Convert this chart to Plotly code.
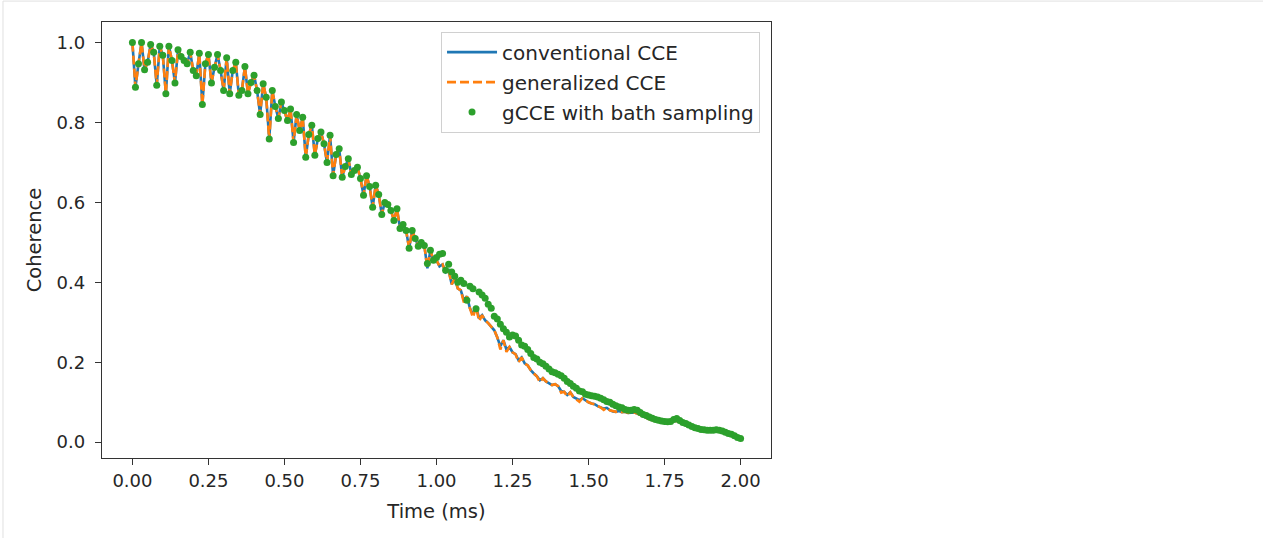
import plotly.graph_objects as go

# Time axis (ms), sampled every 0.01 ms from 0 to 2 ms
time_ms = [
    0.00, 0.01, 0.02, 0.03, 0.04, 0.05, 0.06, 0.07, 0.08, 0.09,
    0.10, 0.11, 0.12, 0.13, 0.14, 0.15, 0.16, 0.17, 0.18, 0.19,
    0.20, 0.21, 0.22, 0.23, 0.24, 0.25, 0.26, 0.27, 0.28, 0.29,
    0.30, 0.31, 0.32, 0.33, 0.34, 0.35, 0.36, 0.37, 0.38, 0.39,
    0.40, 0.41, 0.42, 0.43, 0.44, 0.45, 0.46, 0.47, 0.48, 0.49,
    0.50, 0.51, 0.52, 0.53, 0.54, 0.55, 0.56, 0.57, 0.58, 0.59,
    0.60, 0.61, 0.62, 0.63, 0.64, 0.65, 0.66, 0.67, 0.68, 0.69,
    0.70, 0.71, 0.72, 0.73, 0.74, 0.75, 0.76, 0.77, 0.78, 0.79,
    0.80, 0.81, 0.82, 0.83, 0.84, 0.85, 0.86, 0.87, 0.88, 0.89,
    0.90, 0.91, 0.92, 0.93, 0.94, 0.95, 0.96, 0.97, 0.98, 0.99,
    1.00, 1.01, 1.02, 1.03, 1.04, 1.05, 1.06, 1.07, 1.08, 1.09,
    1.10, 1.11, 1.12, 1.13, 1.14, 1.15, 1.16, 1.17, 1.18, 1.19,
    1.20, 1.21, 1.22, 1.23, 1.24, 1.25, 1.26, 1.27, 1.28, 1.29,
    1.30, 1.31, 1.32, 1.33, 1.34, 1.35, 1.36, 1.37, 1.38, 1.39,
    1.40, 1.41, 1.42, 1.43, 1.44, 1.45, 1.46, 1.47, 1.48, 1.49,
    1.50, 1.51, 1.52, 1.53, 1.54, 1.55, 1.56, 1.57, 1.58, 1.59,
    1.60, 1.61, 1.62, 1.63, 1.64, 1.65, 1.66, 1.67, 1.68, 1.69,
    1.70, 1.71, 1.72, 1.73, 1.74, 1.75, 1.76, 1.77, 1.78, 1.79,
    1.80, 1.81, 1.82, 1.83, 1.84, 1.85, 1.86, 1.87, 1.88, 1.89,
    1.90, 1.91, 1.92, 1.93, 1.94, 1.95, 1.96, 1.97, 1.98, 1.99,
    2.00,
]

conventional_cce = [
    1.000, 0.888, 0.947, 1.000, 0.932, 0.951, 0.995, 0.976, 0.893, 0.991,
    0.968, 0.872, 0.991, 0.955, 0.899, 0.982, 0.965, 0.955, 0.947, 0.976,
    0.930, 0.917, 0.973, 0.845, 0.947, 0.970, 0.899, 0.938, 0.970, 0.930,
    0.880, 0.962, 0.872, 0.930, 0.951, 0.868, 0.880, 0.940, 0.872, 0.900,
    0.918, 0.880, 0.820, 0.897, 0.863, 0.759, 0.880, 0.840, 0.810, 0.851,
    0.830, 0.805, 0.834, 0.750, 0.820, 0.780, 0.813, 0.713, 0.770, 0.793,
    0.718, 0.760, 0.776, 0.747, 0.700, 0.768, 0.667, 0.720, 0.734, 0.663,
    0.690, 0.709, 0.670, 0.680, 0.688, 0.660, 0.618, 0.667, 0.640, 0.588,
    0.643, 0.620, 0.570, 0.600, 0.595, 0.580, 0.555, 0.584, 0.535, 0.545,
    0.530, 0.485, 0.530, 0.510, 0.490, 0.500, 0.492, 0.435, 0.480, 0.455,
    0.455, 0.440, 0.445, 0.425, 0.430, 0.395, 0.410, 0.385, 0.380, 0.355,
    0.365, 0.335, 0.320, 0.340, 0.310, 0.318, 0.305, 0.298, 0.290, 0.280,
    0.262, 0.240, 0.255, 0.232, 0.238, 0.225, 0.220, 0.205, 0.212, 0.197,
    0.192, 0.180, 0.172, 0.165, 0.155, 0.160, 0.152, 0.148, 0.143, 0.145,
    0.140, 0.128, 0.126, 0.118, 0.125, 0.113, 0.108, 0.105, 0.110, 0.104,
    0.100, 0.097, 0.095, 0.090, 0.087, 0.084, 0.086, 0.080, 0.077, 0.076,
    0.078, 0.075, 0.076, 0.073, 0.074, 0.074, 0.072, 0.068, 0.064, 0.060,
    0.057, 0.055, 0.053, 0.051, 0.050, 0.049, 0.048, 0.050, 0.054, 0.053,
    0.049, 0.045, 0.042, 0.040, 0.037, 0.034, 0.032, 0.030, 0.029, 0.028,
    0.028, 0.028, 0.029, 0.028, 0.026, 0.023, 0.021, 0.018, 0.015, 0.012,
    0.009,
]

generalized_cce = [
    1.000, 0.888, 0.947, 1.000, 0.932, 0.951, 0.995, 0.976, 0.893, 0.991,
    0.968, 0.872, 0.991, 0.955, 0.899, 0.982, 0.965, 0.955, 0.947, 0.976,
    0.930, 0.917, 0.973, 0.843, 0.947, 0.970, 0.899, 0.938, 0.970, 0.930,
    0.880, 0.962, 0.872, 0.930, 0.951, 0.868, 0.880, 0.940, 0.872, 0.900,
    0.918, 0.880, 0.820, 0.897, 0.863, 0.755, 0.880, 0.840, 0.810, 0.851,
    0.830, 0.805, 0.834, 0.750, 0.820, 0.780, 0.813, 0.713, 0.770, 0.793,
    0.718, 0.760, 0.776, 0.747, 0.700, 0.768, 0.667, 0.720, 0.734, 0.663,
    0.690, 0.709, 0.670, 0.680, 0.688, 0.660, 0.618, 0.667, 0.640, 0.588,
    0.643, 0.620, 0.570, 0.600, 0.595, 0.580, 0.555, 0.584, 0.535, 0.545,
    0.530, 0.485, 0.530, 0.510, 0.490, 0.500, 0.492, 0.435, 0.480, 0.455,
    0.455, 0.440, 0.445, 0.425, 0.430, 0.395, 0.410, 0.385, 0.380, 0.350,
    0.365, 0.335, 0.312, 0.340, 0.303, 0.318, 0.305, 0.298, 0.290, 0.280,
    0.262, 0.232, 0.255, 0.226, 0.238, 0.225, 0.220, 0.200, 0.212, 0.197,
    0.192, 0.180, 0.172, 0.165, 0.150, 0.160, 0.152, 0.148, 0.143, 0.145,
    0.140, 0.124, 0.126, 0.114, 0.125, 0.113, 0.108, 0.101, 0.110, 0.104,
    0.100, 0.097, 0.095, 0.090, 0.087, 0.081, 0.086, 0.080, 0.077, 0.076,
    0.078, 0.075, 0.076, 0.073, 0.074, 0.074, 0.072, 0.068, 0.064, 0.060,
    0.057, 0.055, 0.053, 0.051, 0.050, 0.049, 0.048, 0.050, 0.054, 0.053,
    0.049, 0.045, 0.042, 0.040, 0.037, 0.034, 0.032, 0.030, 0.029, 0.028,
    0.028, 0.028, 0.029, 0.028, 0.026, 0.023, 0.021, 0.018, 0.015, 0.012,
    0.009,
]

gcce_bath_sampling = [
    1.000, 0.888, 0.947, 1.000, 0.932, 0.951, 0.995, 0.976, 0.893, 0.991,
    0.968, 0.872, 0.991, 0.955, 0.899, 0.982, 0.965, 0.955, 0.947, 0.976,
    0.930, 0.917, 0.973, 0.845, 0.947, 0.970, 0.899, 0.938, 0.970, 0.930,
    0.880, 0.962, 0.872, 0.930, 0.951, 0.868, 0.880, 0.940, 0.872, 0.900,
    0.918, 0.880, 0.820, 0.897, 0.863, 0.759, 0.880, 0.840, 0.810, 0.851,
    0.830, 0.805, 0.834, 0.750, 0.820, 0.780, 0.813, 0.713, 0.770, 0.793,
    0.718, 0.760, 0.776, 0.747, 0.700, 0.768, 0.667, 0.720, 0.734, 0.663,
    0.690, 0.709, 0.670, 0.680, 0.688, 0.660, 0.618, 0.667, 0.640, 0.588,
    0.643, 0.620, 0.570, 0.600, 0.595, 0.580, 0.555, 0.584, 0.535, 0.545,
    0.530, 0.485, 0.530, 0.510, 0.490, 0.500, 0.492, 0.447, 0.480, 0.455,
    0.462, 0.470, 0.472, 0.430, 0.445, 0.426, 0.415, 0.400, 0.405, 0.397,
    0.355, 0.390, 0.384, 0.334, 0.376, 0.368, 0.360, 0.345, 0.335, 0.315,
    0.308, 0.295, 0.284, 0.275, 0.263, 0.268, 0.266, 0.255, 0.243, 0.240,
    0.232, 0.222, 0.212, 0.208, 0.200, 0.196, 0.190, 0.183, 0.176, 0.174,
    0.170, 0.166, 0.160, 0.152, 0.147, 0.140, 0.135, 0.128, 0.126, 0.120,
    0.118, 0.116, 0.115, 0.113, 0.110, 0.106, 0.102, 0.100, 0.095, 0.091,
    0.088, 0.086, 0.082, 0.080, 0.080, 0.082, 0.080, 0.074, 0.069, 0.067,
    0.063, 0.060, 0.057, 0.055, 0.053, 0.052, 0.051, 0.052, 0.057, 0.059,
    0.054, 0.049, 0.047, 0.043, 0.039, 0.036, 0.034, 0.032, 0.031, 0.030,
    0.030, 0.030, 0.031, 0.030, 0.028, 0.025, 0.022, 0.020, 0.016, 0.012,
    0.009,
]

x_tick_vals = [0.0, 0.25, 0.5, 0.75, 1.0, 1.25, 1.5, 1.75, 2.0]
x_tick_text = ["0.00", "0.25", "0.50", "0.75", "1.00", "1.25", "1.50", "1.75", "2.00"]
y_tick_vals = [0.0, 0.2, 0.4, 0.6, 0.8, 1.0]
y_tick_text = ["0.0", "0.2", "0.4", "0.6", "0.8", "1.0"]

FONT = "DejaVu Sans"
TXT = "#262626"
AX = "#333333"

fig = go.Figure()
fig.add_trace(go.Scatter(
    x=time_ms, y=conventional_cce, mode="lines", name="conventional CCE",
    legendgroup="a", line=dict(color="#1f77b4", width=2.6),
))
fig.add_trace(go.Scatter(
    x=time_ms, y=generalized_cce, mode="lines", name="generalized CCE",
    legendgroup="b", line=dict(color="#ff7f0e", width=2.6, dash="9px,4px"),
))
fig.add_trace(go.Scatter(
    x=time_ms, y=gcce_bath_sampling, mode="markers", name="gCCE with bath sampling",
    legendgroup="c", marker=dict(color="#2ca02c", size=7, line=dict(width=0)),
))

fig.update_layout(
    width=1263, height=538,
    margin=dict(l=102, r=492, t=22, b=80),
    paper_bgcolor="white", plot_bgcolor="white",
    font=dict(family=FONT, size=18, color=TXT),
    showlegend=True,
    legend=dict(
        x=0.9836, y=0.978, xanchor="right", yanchor="top",
        bgcolor="rgba(255,255,255,0.8)", bordercolor="#d0d0d0", borderwidth=1,
        font=dict(family=FONT, size=20, color=TXT),
        tracegroupgap=1, itemwidth=50,
    ),
    xaxis=dict(
        range=[-0.1, 2.1], tickvals=x_tick_vals, ticktext=x_tick_text,
        showgrid=False, zeroline=False,
        showline=True, mirror=True, linecolor=AX, linewidth=1.3,
        ticks="outside", ticklen=6, tickwidth=1.3, tickcolor=AX,
        tickfont=dict(family=FONT, size=18, color=TXT),
        title=dict(text="Time (ms)", font=dict(family=FONT, size=19.5, color=TXT), standoff=14),
    ),
    yaxis=dict(
        range=[-0.0396, 1.0515], tickvals=y_tick_vals, ticktext=y_tick_text,
        showgrid=False, zeroline=False,
        showline=True, mirror=True, linecolor=AX, linewidth=1.3,
        ticks="outside", ticklen=6, tickwidth=1.3, tickcolor=AX,
        ticklabelstandoff=6,
        tickfont=dict(family=FONT, size=18, color=TXT),
        title=dict(text="Coherence", font=dict(family=FONT, size=19.5, color=TXT), standoff=9),
    ),
    shapes=[
        dict(type="line", xref="paper", yref="paper", x0=-0.148, x1=1.74, y0=1.048, y1=1.048,
             line=dict(color="#e0e0e0", width=1)),
        dict(type="line", xref="paper", yref="paper", x0=-0.148, x1=-0.148, y0=1.048, y1=-0.19,
             line=dict(color="#e0e0e0", width=1)),
    ],
)

fig.write_html(
    "out.html",
    config={"displayModeBar": False},
    post_script="document.body.style.margin='0px';",
)
